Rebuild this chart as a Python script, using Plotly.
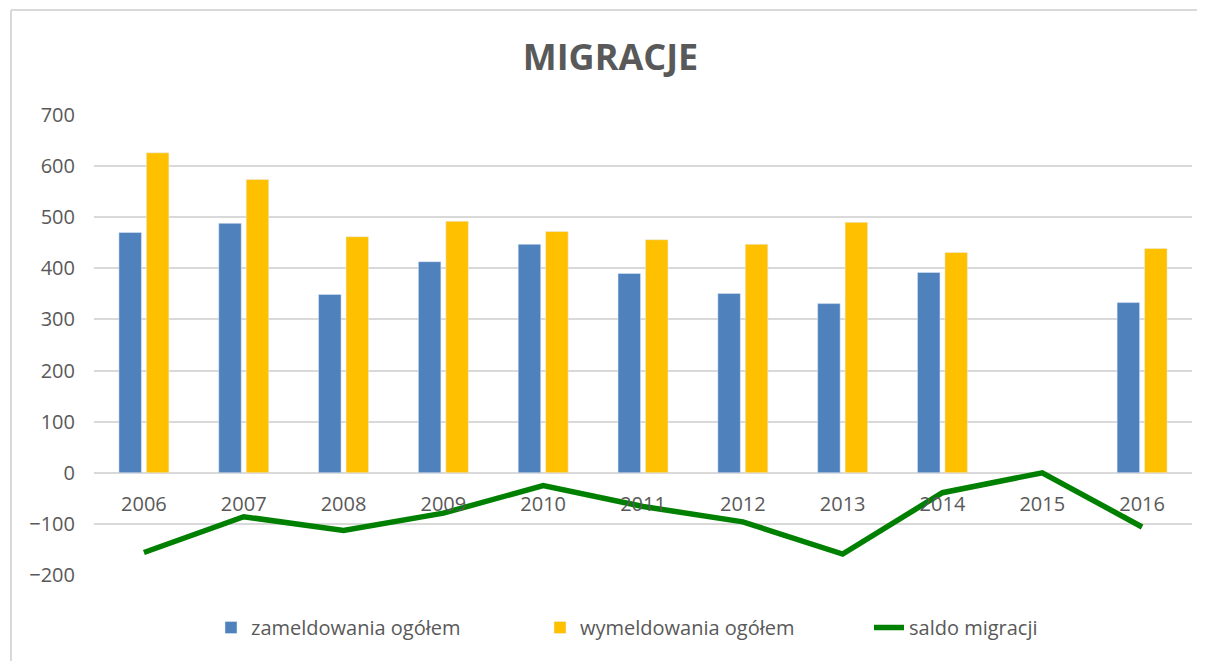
import plotly.graph_objects as go

years = ["2006", "2007", "2008", "2009", "2010", "2011", "2012", "2013", "2014", "2015", "2016"]
zameldowania = [470, 488, 349, 413, 447, 390, 351, 331, 392, None, 333]
wymeldowania = [626, 574, 462, 492, 472, 456, 447, 490, 431, None, 439]
saldo = [-156, -86, -113, -79, -25, -66, -96, -159, -39, 0, -106]
y_ticks = [-200, -100, 0, 100, 200, 300, 400, 500, 600, 700]

# page body has an 8px margin, so figure coordinates are offset by 8px
OFF = 8
W, H = 1205, 661
L, R, T, B = 94 - OFF, 13 + OFF, 115 - OFF, 86 + OFF

fig = go.Figure()
fig.add_trace(go.Bar(x=years, y=zameldowania, name="zameldowania ogółem",
                     marker_color="#4F81BD"))
fig.add_trace(go.Bar(x=years, y=wymeldowania, name="wymeldowania ogółem",
                     marker_color="#FFC000"))
fig.add_trace(go.Scatter(x=years, y=saldo, name="saldo migracji", mode="lines",
                         line=dict(color="#008000", width=5.5)))

ymin, ymax = -200, 700
zero_pos = (0 - ymin) / (ymax - ymin)

pw = W - L - R
ph = H - T - B

def px_x(sx):
    return (sx - OFF - L) / pw

def px_y(sy):
    return (H - B - (sy - OFF)) / ph

fig.update_layout(
    width=W, height=H,
    margin=dict(l=L, r=R, t=T, b=B),
    paper_bgcolor="white", plot_bgcolor="white",
    barmode="group", bargap=0.45, bargroupgap=0.18,
    title=dict(text="<b>MIGRACJE</b>", x=0.5, xanchor="center",
               y=1 - (57 - OFF) / H, yanchor="middle",
               font=dict(family="Open Sans", size=36, color="#595959")),
    font=dict(family="Open Sans", color="#595959", size=20),
    showlegend=True,
    legend=dict(orientation="h", x=px_x(211), xanchor="left",
                y=px_y(608), yanchor="top",
                font=dict(size=20, color="#595959"),
                entrywidth=284, entrywidthmode="pixels",
                traceorder="normal"),
    xaxis=dict(type="category", showgrid=False, showline=False, zeroline=False,
               ticks="", anchor="free", position=zero_pos, ticklabelstandoff=17,
               tickfont=dict(size=20, color="#595959")),
    yaxis=dict(range=[ymin, ymax], tickvals=y_ticks, showgrid=True,
               gridcolor="#D9D9D9", gridwidth=2, zeroline=True,
               zerolinecolor="#D9D9D9", zerolinewidth=2,
               tickfont=dict(size=20, color="#595959"), ticks="", ticklabelstandoff=18),
)

# outer chart border (top and left edges only visible)
fig.add_shape(type="line", xref="paper", yref="paper",
              x0=px_x(11), x1=px_x(1210), y0=px_y(10), y1=px_y(10),
              line=dict(color="#D9D9D9", width=2), layer="below")
fig.add_shape(type="line", xref="paper", yref="paper",
              x0=px_x(11), x1=px_x(11), y0=px_y(10), y1=px_y(680),
              line=dict(color="#D9D9D9", width=2), layer="below")

fig.write_html("out.html")
